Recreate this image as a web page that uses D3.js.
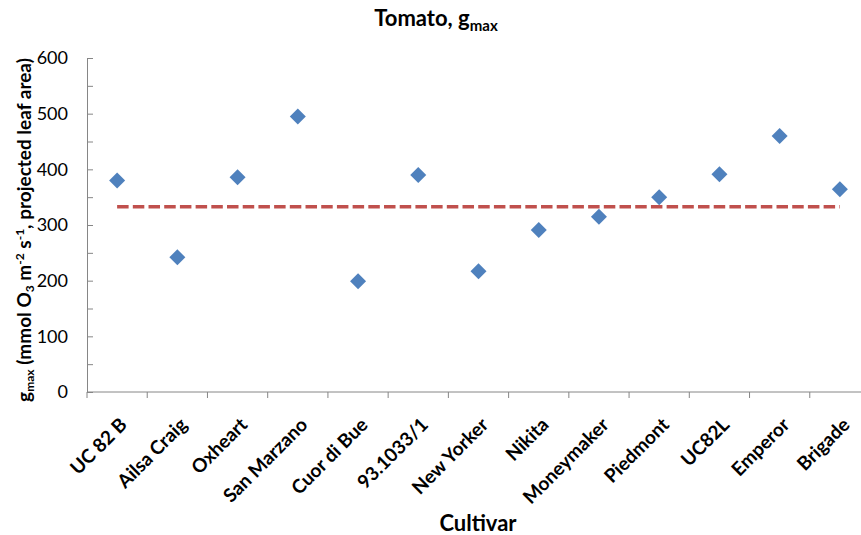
<!DOCTYPE html>
<html><head><meta charset="utf-8">
<script src="https://cdn.jsdelivr.net/npm/d3@7"></script>
<style>body{margin:0;background:#fff}svg{display:block}text{font-family:Lato,"Open Sans",sans-serif}</style>
</head><body>
<svg id="c" width="861" height="535"></svg>
<script>
const cultivars = ["UC 82 B","Ailsa Craig","Oxheart","San Marzano","Cuor di Bue","93.1033/1","New Yorker","Nikita","Moneymaker","Piedmont","UC82L","Emperor","Brigade"];
const gmax = [380,242,386,495,199,390,217,291,315,350,391,460,364];
const meanValue = [333];
const yTicks = [0,100,200,300,400,500,600];

const svg = d3.select("#c");
const x = d3.scaleBand().domain(cultivars).range([87,870]);
const y = d3.scaleLinear().domain([0,600]).range([392,58]);
const axisColor = "#868686";

// y axis
const yAxis = svg.append("g").attr("transform","translate(87,0)")
  .call(d3.axisLeft(y).tickValues(d3.range(0,601,50)).tickSize(-6).tickFormat(d=>yTicks.includes(d)?d:"").tickPadding(19));
yAxis.select(".domain").attr("stroke",axisColor);
yAxis.selectAll(".tick line").attr("stroke",axisColor);
yAxis.selectAll(".tick text").attr("font-size",18).attr("fill","#000").attr("font-family","Lato");

// x axis
const xg = svg.append("g").attr("transform","translate(0,392)");
xg.append("line").attr("x1",87).attr("x2",870).attr("stroke",axisColor);
const bounds = cultivars.map(c=>x(c)).concat([870]);
xg.selectAll("line.tk").data(bounds).enter().append("line").attr("class","tk")
  .attr("x1",d=>d).attr("x2",d=>d).attr("y1",0).attr("y2",6).attr("stroke",axisColor);
xg.selectAll("text").data(cultivars).enter().append("text")
  .attr("transform",d=>`translate(${x(d)+x.bandwidth()/2+11},${34}) rotate(-45)`)
  .attr("text-anchor","end").attr("font-weight","bold").attr("font-size",19).text(d=>d);

// mean dashed line
svg.append("line")
  .attr("x1",x(cultivars[0])+x.bandwidth()/2).attr("x2",x(cultivars[cultivars.length-1])+x.bandwidth()/2)
  .attr("y1",y(meanValue[0])).attr("y2",y(meanValue[0]))
  .attr("stroke","#C0504D").attr("stroke-width",3.5).attr("stroke-dasharray","11.5,4.2");

// points
svg.selectAll("path.pt").data(cultivars).enter().append("path").attr("class","pt")
  .attr("d",d3.symbol(d3.symbolSquare, 128)())
  .attr("transform",(d,i)=>`translate(${x(d)+x.bandwidth()/2},${y(gmax[i])}) rotate(45)`)
  .attr("fill","#4F81BD");

// title
const t = svg.append("text").attr("x",436).attr("y",26).attr("text-anchor","middle").attr("font-weight","bold").attr("font-size",22);
t.append("tspan").text("Tomato, g");
t.append("tspan").attr("font-size",15).attr("dy",5).text("max");

// x title
svg.append("text").attr("x",478).attr("y",531).attr("text-anchor","middle").attr("font-weight","bold").attr("font-size",22).text("Cultivar");

// y title
const yt = svg.append("text").attr("transform","translate(31,230) rotate(-90)").attr("text-anchor","middle").attr("font-weight","bold").attr("font-size",19);
yt.append("tspan").text("g");
yt.append("tspan").attr("font-size",12).attr("dy",3).text("max");
yt.append("tspan").attr("dy",-3).text(" (mmol O");
yt.append("tspan").attr("font-size",12).attr("dy",3).text("3");
yt.append("tspan").attr("dy",-3).text(" m");
yt.append("tspan").attr("font-size",12).attr("dy",-7).text("-2");
yt.append("tspan").attr("dy",7).text(" s");
yt.append("tspan").attr("font-size",12).attr("dy",-7).text("-1");
yt.append("tspan").attr("dy",7).text(", projected leaf area)");
</script>
</body></html>
